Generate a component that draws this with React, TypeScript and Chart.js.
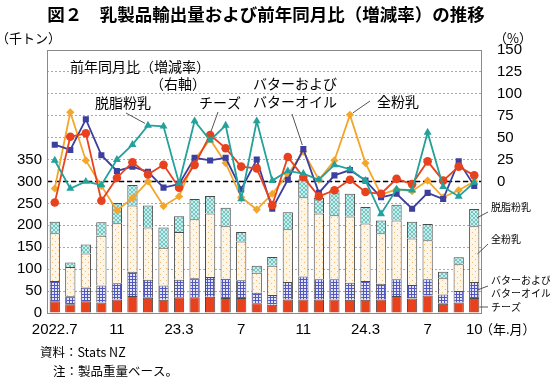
import React, { useEffect, useRef } from 'react';
import { Chart, registerables } from 'chart.js';

Chart.register(...registerables);

// ---- data ----
const monthLabels = ['2022.7', '', '', '', '11', '', '', '', '23.3', '', '', '', '7', '', '', '', '11', '', '', '', '24.3', '', '', '', '7', '', '', '10'];

// export volume (thousand tonnes)
const cheeseVol = [27, 20, 27, 24, 31, 39, 35, 30, 36, 36, 37, 34, 34, 22, 19, 31, 31, 31, 31, 30, 30, 31, 39, 33, 40, 21, 24, 34];
const butterVol = [46, 18, 31, 39, 37, 55, 41, 33, 40, 43, 45, 44, 41, 24, 22, 40, 52, 46, 46, 39, 43, 36, 38, 31, 37, 21, 26, 37];
const wmpVol = [109, 67, 78, 113, 137, 151, 119, 86, 109, 135, 145, 120, 88, 46, 67, 120, 181, 150, 146, 151, 131, 115, 134, 106, 89, 37, 61, 127];
const smpVol = [26, 10, 20, 31, 46, 47, 50, 46, 36, 46, 40, 42, 22, 16, 20, 39, 41, 36, 57, 52, 38, 29, 36, 38, 37, 15, 16, 39];

// year-on-year change (%)
const cheeseYoY = [-24, 51, 55, -22, 4, 22, 8, 19, -7, 19, 53, 38, 17, 15, -27, 28, 5, -17, -10, 2, -12, -14, 3, -3, 23, 1, 17, 7];
const butterYoY = [42, 36, 71, 30, 12, 17, 11, -7, -3, 27, 24, 27, -9, 25, -31, 2, 37, -13, 7, 13, 1, -18, -14, -31, -13, -20, 23, -5];
const smpYoY = [24, -8, 0, -4, 25, 42, 64, 63, -2, 69, 47, 64, -20, 69, 1, 12, 9, 2, 19, 14, 1, -37, -9, -10, 56, -6, -17, -1];
const wmpYoY = [-8, 79, 24, -5, -33, -19, 0, -28, -17, 25, 48, 21, -18, -32, -14, 8, 34, 2, 24, 76, 21, -15, -9, -11, 1, -18, -10, 0];

const leftMax = 600;
const leftLabelMax = 350;
const rightMin = -150;
const rightMax = 150;

const NUM = '"Liberation Sans", Arial, sans-serif';
const JP = '"Noto Sans CJK JP", sans-serif';

const C_CHEESE = '#e8411e';
const C_BUTTER = '#3c3f9e';
const C_SMP = '#23a19b';
const C_WMP = '#f4a62a';

function makePattern(ctx: CanvasRenderingContext2D, size: number, bg: string, fg: string, pix: Array<[number, number]>) {
  const c = document.createElement('canvas');
  c.width = size;
  c.height = size;
  const g = c.getContext('2d')!;
  g.fillStyle = bg;
  g.fillRect(0, 0, size, size);
  g.fillStyle = fg;
  pix.forEach(([x, y]) => g.fillRect(x, y, 1, 1));
  return ctx.createPattern(c, 'repeat') as CanvasPattern;
}

export default function App() {
  const ref = useRef<HTMLCanvasElement | null>(null);

  useEffect(() => {
    const canvas = ref.current!;
    const ctx = canvas.getContext('2d')!;

    const gridPix: Array<[number, number]> = [];
    for (let i = 0; i < 3; i++) { gridPix.push([i, 0]); gridPix.push([0, i]); }
    const butterPat = makePattern(ctx, 3, '#e2e4f7', '#5258bf', gridPix);
    const wmpPat = makePattern(ctx, 6, '#fdf5e6', '#f3bb78', [[1, 1], [4, 4]]);
    const smpPix: Array<[number, number]> = [];
    for (let i = 0; i < 4; i++) { smpPix.push([i, i]); smpPix.push([i, 3 - i]); }
    const smpPat = makePattern(ctx, 4, '#c9eeec', '#74c6c2', smpPix);

    const annot = {
      id: 'annot',
      beforeDatasetsDraw(chart: any) {
        const { ctx: c, chartArea: a, scales } = chart;
        c.save();
        // dashed zero line on right axis
        const y0 = scales.y2.getPixelForValue(0);
        c.strokeStyle = '#000';
        c.lineWidth = 1.6;
        c.setLineDash([5, 3]);
        c.beginPath();
        c.moveTo(a.left, y0);
        c.lineTo(a.right, y0);
        c.stroke();
        c.setLineDash([]);
        // frame
        c.strokeStyle = '#8a8a8a';
        c.lineWidth = 1;
        c.strokeRect(a.left + 0.5, a.top + 0.5, a.right - a.left - 1, a.bottom - a.top);
        c.restore();
      },
      afterDraw(chart: any) {
        const { ctx: c } = chart;
        c.save();
        c.fillStyle = '#000';
        c.textBaseline = 'middle';
        c.textAlign = 'center';
        c.font = `bold 17.5px ${JP}`;
        c.fillText('図２　乳製品輸出量および前年同月比（増減率）の推移', 266, 14);

        c.textAlign = 'left';
        c.font = `13px ${JP}`;
        c.fillText('（千トン）', -4, 38);
        c.fillText('（%）', 494, 38);

        c.font = `14px ${JP}`;
        c.fillText('前年同月比（増減率）', 70, 67);
        c.fillText('（右軸）', 150, 84);
        c.fillText('脱脂粉乳', 95, 103);
        c.fillText('チーズ', 199, 103);
        c.fillText('バターおよび', 253, 84);
        c.fillText('バターオイル', 253, 102);
        c.fillText('全粉乳', 377, 102);

        const pt = (ds: number, i: number) => chart.getDatasetMeta(ds).data[i];
        c.strokeStyle = '#555';
        c.lineWidth = 1;
        const leader = (x1: number, y1: number, x2: number, y2: number) => {
          c.beginPath();
          c.moveTo(x1, y1);
          c.lineTo(x2, y2);
          c.stroke();
        };
        // line-series leaders (datasets: 0 smp,1 cheese,2 butter,3 wmp)
        let p = pt(0, 6); leader(126, 113, p.x - 3, p.y - 2);
        p = pt(1, 10); leader(218, 112, p.x + 1, p.y - 4);
        p = pt(2, 16); leader(292, 114, p.x - 1, p.y - 4);
        p = pt(3, 19); leader(370, 101, p.x + 3, p.y - 2);

        // right-side bar legend
        const last = monthLabels.length - 1;
        const seg = (ds: number) => {
          const e = chart.getDatasetMeta(ds).data[last];
          return { x: e.x + e.width / 2, y: (e.y + e.base) / 2 };
        };
        c.font = `10px ${JP}`;
        c.fillText('脱脂粉乳', 491, 207);
        let s = seg(7); leader(488, 212, s.x - 2, s.y);
        c.fillText('全粉乳', 491, 239);
        s = seg(6); leader(488, 244, s.x - 2, s.y);
        c.fillText('バターおよび', 491, 280);
        c.fillText('バターオイル', 491, 293);
        s = seg(5); leader(488, 286, s.x - 2, s.y);
        c.fillText('チーズ', 491, 307);
        s = seg(4); leader(s.x, 307, 488, 307);

        c.font = `13px ${JP}`;
        c.fillText('（年.月）', 480, 329);
        c.font = `12.5px ${JP}`;
        c.fillText('資料：Stats NZ', 40, 352);
        c.fillText('注：製品重量ベース。', 53, 371);
        c.restore();
      },
    };

    const lineDs = (label: string, data: number[], color: string, style: string, r: number) => ({
      type: 'line' as const,
      label,
      data,
      yAxisID: 'y2',
      borderColor: color,
      backgroundColor: color,
      borderWidth: 1.8,
      pointStyle: style,
      pointRadius: r,
      pointBorderWidth: 0,
      pointBackgroundColor: color,
      tension: 0,
      order: 0,
    });
    const barDs = (label: string, data: number[], fill: any) => ({
      type: 'bar' as const,
      label,
      data,
      yAxisID: 'y',
      backgroundColor: fill,
      borderColor: '#4a4a4a',
      borderWidth: 1,
      barPercentage: 0.66,
      categoryPercentage: 1,
      order: 1,
    });

    const chart = new Chart(ctx, {
      type: 'bar',
      data: {
        labels: monthLabels,
        datasets: [
          lineDs('脱脂粉乳', smpYoY, C_SMP, 'triangle', 4.6),
          lineDs('チーズ', cheeseYoY, C_CHEESE, 'circle', 4.3),
          lineDs('バターおよびバターオイル', butterYoY, C_BUTTER, 'rect', 4.3),
          lineDs('全粉乳', wmpYoY, C_WMP, 'rectRot', 4.1),
          barDs('チーズ', cheeseVol, C_CHEESE),
          barDs('バターおよびバターオイル', butterVol, butterPat),
          barDs('全粉乳', wmpVol, wmpPat),
          barDs('脱脂粉乳', smpVol, smpPat),
        ] as any,
      },
      options: {
        responsive: false,
        animation: false,
        devicePixelRatio: 1,
        layout: { padding: { top: 50, left: 0, right: 0, bottom: 0 } },
        plugins: { legend: { display: false }, tooltip: { enabled: false }, title: { display: false } },
        scales: {
          x: {
            stacked: true,
            grid: { display: false, drawTicks: false },
            border: { display: false },
            ticks: { autoSkip: false, maxRotation: 0, minRotation: 0, padding: 8, color: '#000', font: { family: NUM, size: 15 } },
            afterFit: (s: any) => { s.height = 72; },
          },
          y: {
            stacked: true,
            position: 'left',
            min: 0,
            max: leftMax,
            ticks: {
              stepSize: 50,
              padding: 5,
              color: '#000',
              font: { family: NUM, size: 15 },
              callback: (v: any) => (Number(v) <= leftLabelMax ? String(v) : ''),
            },
            grid: { color: '#a8a8a8', drawTicks: false, lineWidth: 1 },
            border: { display: false, dash: [2, 2] },
            afterFit: (s: any) => { s.width = 47; },
          },
          y2: {
            stacked: false,
            position: 'right',
            min: rightMin,
            max: rightMax,
            ticks: {
              stepSize: 25,
              padding: 15,
              color: '#000',
              font: { family: NUM, size: 15 },
              callback: (v: any) => (Number(v) >= 0 ? String(v) : ''),
            },
            grid: { display: false, drawTicks: false },
            border: { display: false },
            afterFit: (s: any) => { s.width = 68; },
          },
        },
      } as any,
      plugins: [annot],
    });
    return () => chart.destroy();
  }, []);

  return (
    <div style={{ position: 'absolute', left: 0, top: 0, width: 550, height: 385, background: '#fff' }}>
      <canvas ref={ref} width={550} height={385} style={{ width: 550, height: 385, display: 'block' }} />
    </div>
  );
}
